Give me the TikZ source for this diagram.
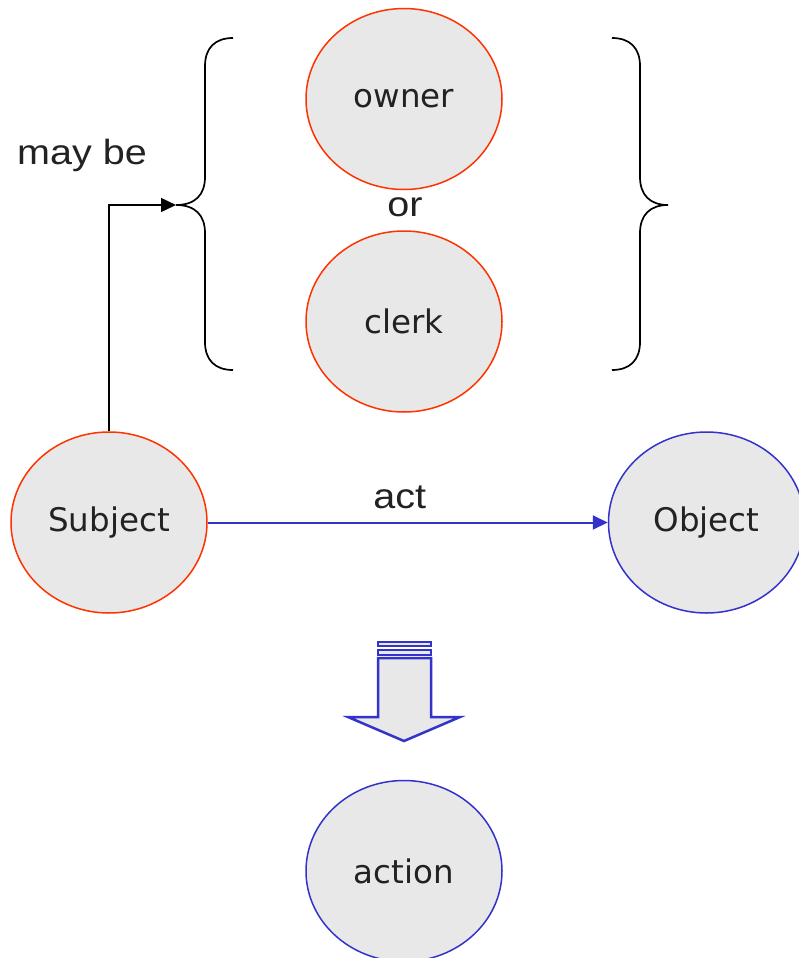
\documentclass[tikz,border=0pt]{standalone}
\usepackage{fontspec}
\usepackage{tikz}
\usetikzlibrary{positioning}
\usetikzlibrary{shapes.geometric}
\usetikzlibrary{arrows.meta}

\newfontfamily\ellipsefont{DejaVu Sans}
\newfontfamily\wordfont[FakeStretch=1.13]{Liberation Sans}

\definecolor{rolered}{HTML}{FF3300}
\definecolor{actblue}{HTML}{3333CC}
\definecolor{ellgray}{HTML}{E8E8E8}
\definecolor{textgray}{HTML}{222222}

\begin{document}
\begin{tikzpicture}[x=1pt,y=-1pt,>={Triangle[length=15pt,width=14pt]},
                    every node/.style={text=textgray},
                    role node/.style={ellipse,draw=rolered,fill=ellgray,line width=1.5pt,
                      minimum width=196pt,minimum height=181pt,inner sep=0pt,
                      font=\ellipsefont\fontsize{32.5}{38}\selectfont},
                    thing node/.style={role node,draw=actblue},
                    word/.style={font=\wordfont\fontsize{35}{42}\selectfont,inner sep=0pt}]
  \useasboundingbox (0,0) rectangle (799,958);

  % the two roles
  \node[role node] (owner) at (404,99) {owner};
  \node[role node] (clerk) [below=40pt of owner] {clerk};
  \node[word] (or) at (405,207) {or};

  % subject acts on object
  \node[role node] (subject) at (109,522.5) {Subject};
  \node[thing node] (object) [right=400pt of subject] {Object};
  \node[thing node] (action) at (404,871) {action};

  % braces round the roles
  \coordinate (tipL) at (176,205);
  \draw[line width=1.7pt] (233,38) .. controls (215,38) and (205,48) .. (205,66)
    -- (205,177) .. controls (205,195) and (195,205) .. (tipL)
    .. controls (195,205) and (205,215) .. (205,233)
    -- (205,342) .. controls (205,360) and (215,370) .. (233,370);
  \draw[line width=1.7pt] (612,38) .. controls (630,38) and (640,48) .. (640,66)
    -- (640,177) .. controls (640,195) and (650,205) .. (668,205)
    .. controls (650,205) and (640,215) .. (640,233)
    -- (640,342) .. controls (640,360) and (630,370) .. (612,370);

  \node[word] (maybe) at (82,155) {may be};

  \draw[->,line width=1.5pt] (subject.north) |- (tipL);
  \draw[->,actblue,line width=2pt] (subject.east) -- node[word,pos=0.48,above=13pt] {act} (object.west);

  % block arrow down to action
  \begin{scope}[draw=actblue,fill=ellgray,line width=2.5pt]
    \filldraw (378,642) rectangle (431,646);
    \filldraw (378,650) rectangle (431,655);
    \filldraw (378,658) -- (431,658) -- (431,717) -- (460,717) -- (404,741)
      -- (348,717) -- (378,717) -- cycle;
  \end{scope}
\end{tikzpicture}
\end{document}
